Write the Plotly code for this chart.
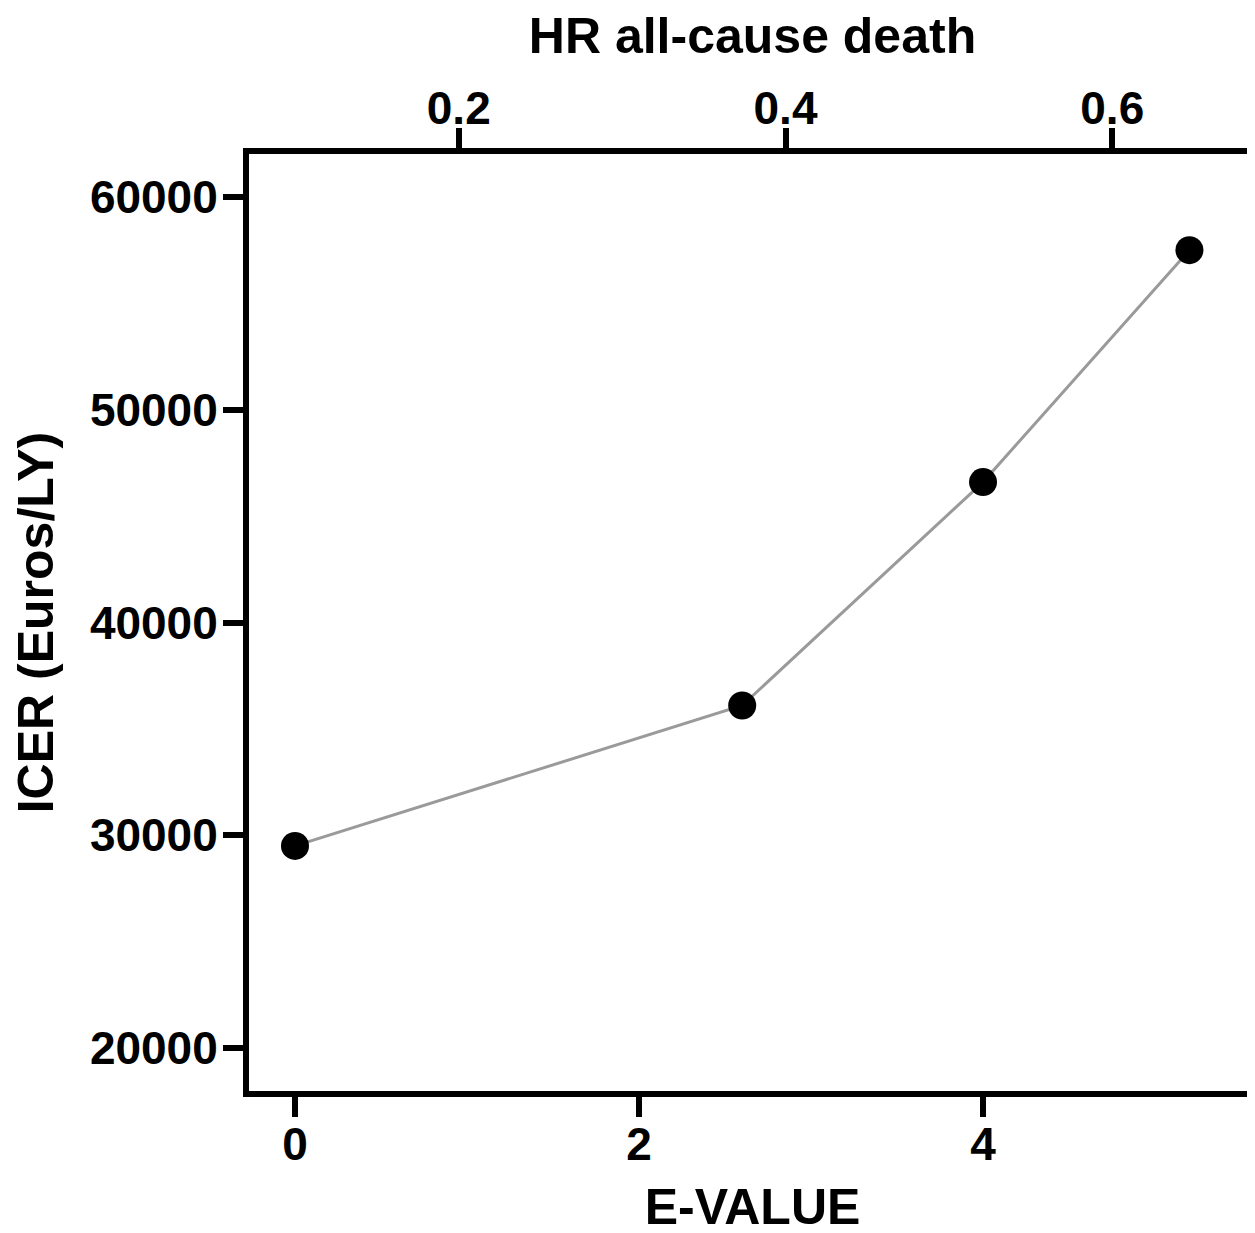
import plotly.graph_objects as go

e_value = [0, 2.6, 4.0, 5.2]
icer = [29500, 36100, 46600, 57500]
bottom_ticks = [0, 2, 4]
left_ticks = [20000, 30000, 40000, 50000, 60000]
top_ticks = [0.2, 0.4, 0.6]

TICKFONT = dict(family="Liberation Sans, Arial, sans-serif", size=46, color="black", weight="bold")
TITLEFONT = dict(family="Liberation Sans, Arial, sans-serif", size=50, color="black", weight="bold")

fig = go.Figure()
fig.add_trace(go.Scatter(
    x=e_value, y=icer, mode="lines+markers",
    line=dict(color="#9a9a9a", width=3),
    marker=dict(color="black", size=28),
    showlegend=False, hoverinfo="skip",
))
# invisible trace to show the top axis
fig.add_trace(go.Scatter(
    x=top_ticks, y=[None] * len(top_ticks), xaxis="x2", yaxis="y",
    mode="markers", marker=dict(opacity=0), showlegend=False, hoverinfo="skip",
))

axis_common = dict(
    showgrid=False, zeroline=False, showline=True, linecolor="black", linewidth=6,
    ticks="outside", ticklen=20, tickwidth=6, tickcolor="black",
    tickfont=TICKFONT,
)

fig.update_layout(
    width=1255, height=1233,
    paper_bgcolor="white", plot_bgcolor="white",
    margin=dict(l=241, r=7, t=146, b=150),
    xaxis=dict(
        range=[-0.2674, 5.587], tickvals=bottom_ticks, ticktext=[str(v) for v in bottom_ticks],
        title=dict(text="E-VALUE", font=TITLEFONT, standoff=22),
        ticklabelstandoff=-12,
        **axis_common,
    ),
    xaxis2=dict(
        range=[0.0716, 0.688], tickvals=top_ticks, ticktext=[f"{v:.1f}" for v in top_ticks],
        overlaying="x", side="top", anchor="y",
        title=dict(text="HR all-cause death", font=TITLEFONT, standoff=19),
        ticklabelstandoff=-14,
        **axis_common,
    ),
    yaxis=dict(
        range=[17980, 62020], tickvals=left_ticks, ticktext=[str(v) for v in left_ticks],
        title=dict(text="ICER (Euros/LY)", font=TITLEFONT, standoff=25),
        ticklabelstandoff=-4,
        **axis_common,
    ),
)

fig.write_html("out.html")
